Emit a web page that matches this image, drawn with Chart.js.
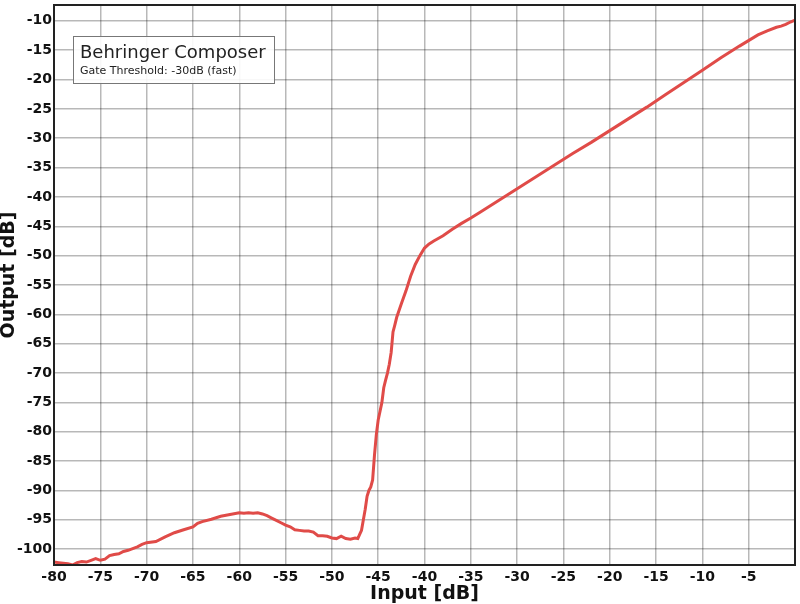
<!DOCTYPE html>
<html>
<head>
<meta charset="utf-8">
<script src="https://cdn.jsdelivr.net/npm/chart.js@4/dist/chart.umd.min.js"></script>
<style>
  html, body { margin: 0; padding: 0; background: #fff; }
  #wrap { width: 800px; height: 604px; }
</style>
</head>
<body>
<div id="wrap"><canvas id="gateChart" width="800" height="604"></canvas></div>
<script>
// measured transfer curve, input level vs output level (dB)
const inputDb = [
  -80, -79.5, -79, -78.5, -78, -77.5, -77, -76.5, -76, -75.5, -75, -74.5, -74, -73.5, -73, -72.5, -72, -71.5, -71, -70.5,
  -70, -69, -68, -67, -66, -65, -64.5, -64, -63, -62, -61, -60, -59.5, -59, -58.5, -58, -57.5, -57, -56.5, -56,
  -55.5, -55, -54.5, -54, -53.5, -53, -52.5, -52, -51.5, -51, -50.5, -50, -49.5, -49, -48.5, -48, -47.5, -47.2, -47, -46.8,
  -46.6, -46.4, -46.2, -46, -45.8, -45.6, -45.4, -45.2, -45, -44.8, -44.6, -44.4, -44.2, -44, -43.8, -43.6, -43.4, -43.2, -43, -42.5,
  -42, -41.5, -41, -40.5, -40, -39.5, -39, -38, -37, -36, -35, -34, -32, -30, -28, -26, -24, -22, -20, -18,
  -16, -14, -12, -10, -8, -6, -4, -3, -2, -1.5, -1, -0.5, 0
];
const outputDb = [
  -102.2, -102.3, -102.4, -102.5, -102.7, -102.3, -102.1, -102.2, -101.9, -101.6, -101.9, -101.7, -101.1, -100.9, -100.8, -100.4, -100.2, -99.9, -99.6, -99.2,
  -98.9, -98.7, -97.9, -97.2, -96.7, -96.2, -95.6, -95.3, -94.9, -94.4, -94.1, -93.8, -93.9, -93.8, -93.9, -93.8, -94.0, -94.3, -94.7, -95.1,
  -95.5, -95.9, -96.2, -96.7, -96.8, -96.9, -96.9, -97.1, -97.7, -97.7, -97.8, -98.1, -98.2, -97.8, -98.2, -98.3, -98.1, -98.2, -97.5, -96.8,
  -95.0, -93.2, -91.0, -90.0, -89.4, -88.2, -84.0, -80.5, -78.0, -76.5, -75.0, -72.5, -71.2, -70.0, -68.5, -66.5, -63.0, -61.8, -60.5, -58.2,
  -56.0, -53.5, -51.5, -50.0, -48.7, -48.0, -47.5, -46.6, -45.5, -44.5, -43.6, -42.6, -40.6, -38.6, -36.6, -34.6, -32.6, -30.7, -28.7, -26.7,
  -24.7, -22.6, -20.5, -18.4, -16.3, -14.3, -12.4, -11.7, -11.1, -10.9, -10.6, -10.2, -9.9
];

const xTicks = [-80, -75, -70, -65, -60, -55, -50, -45, -40, -35, -30, -25, -20, -15, -10, -5];
const yTicks = [-100, -95, -90, -85, -80, -75, -70, -65, -60, -55, -50, -45, -40, -35, -30, -25, -20, -15, -10];

const xTitle = "Input [dB]";
const yTitle = "Output [dB]";
const boxTitle = "Behringer Composer";
const boxSubtitle = "Gate Threshold: -30dB (fast)";

const points = inputDb.map((x, i) => ({ x: x, y: outputDb[i] }));

// frame around plot, axis titles and the label box in the corner
const framePlugin = {
  id: "frame",
  afterDraw(chart) {
    const ctx = chart.ctx;
    const a = chart.chartArea;
    ctx.save();
    ctx.strokeStyle = "#222";
    ctx.lineWidth = 2;
    ctx.strokeRect(a.left, a.top, a.right - a.left, a.bottom - a.top);

    // axis titles
    ctx.fillStyle = "#111";
    ctx.font = "bold 19px 'DejaVu Sans'";
    ctx.textAlign = "center";
    ctx.textBaseline = "middle";
    ctx.fillText(xTitle, (a.left + a.right) / 2, 594);
    ctx.save();
    ctx.translate(9, 275);
    ctx.rotate(-Math.PI / 2);
    ctx.fillText(yTitle, 0, 0);
    ctx.restore();

    // label box
    ctx.textAlign = "left";
    ctx.fillStyle = "rgba(255,255,255,0.9)";
    ctx.fillRect(73.5, 36.5, 201, 47);
    ctx.strokeStyle = "#777";
    ctx.lineWidth = 1;
    ctx.strokeRect(73.5, 36.5, 201, 47);
    ctx.fillStyle = "#222";
    ctx.textBaseline = "alphabetic";
    ctx.font = "18px 'DejaVu Sans'";
    ctx.fillText(boxTitle, 80, 58);
    ctx.font = "11px 'DejaVu Sans'";
    ctx.fillText(boxSubtitle, 80, 74);
    ctx.restore();
  }
};

const tickFont = { family: "DejaVu Sans", size: 14, weight: "bold" };

new Chart(document.getElementById("gateChart"), {
  type: "line",
  data: {
    datasets: [{
      data: points,
      borderColor: "#e04b48",
      borderWidth: 3,
      pointRadius: 0,
      tension: 0,
      fill: false
    }]
  },
  options: {
    responsive: false,
    animation: false,
    layout: { padding: { top: 5, right: 5, left: 0, bottom: 0 } },
    plugins: { legend: { display: false }, tooltip: { enabled: false } },
    scales: {
      x: {
        type: "linear",
        min: -80,
        max: 0,
        afterBuildTicks: (axis) => { axis.ticks = xTicks.map(v => ({ value: v })); },
        afterFit: (axis) => { axis.height = 39; axis.paddingLeft = 0; axis.paddingRight = 0; },
        ticks: { font: tickFont, color: "#111", padding: 4, maxRotation: 0, autoSkip: false },
        grid: { color: "rgba(0,0,0,0.28)", lineWidth: 1.5, drawTicks: false },
        border: { display: false }
      },
      y: {
        type: "linear",
        min: -102.7,
        max: -7.3,
        afterBuildTicks: (axis) => { axis.ticks = yTicks.map(v => ({ value: v })); },
        afterFit: (axis) => { axis.width = 54; axis.paddingTop = 0; axis.paddingBottom = 0; },
        ticks: { font: tickFont, color: "#111", padding: 2, autoSkip: false },
        grid: { color: "rgba(0,0,0,0.28)", lineWidth: 1.5, drawTicks: false },
        border: { display: false }
      }
    }
  },
  plugins: [framePlugin]
});
</script>
</body>
</html>
